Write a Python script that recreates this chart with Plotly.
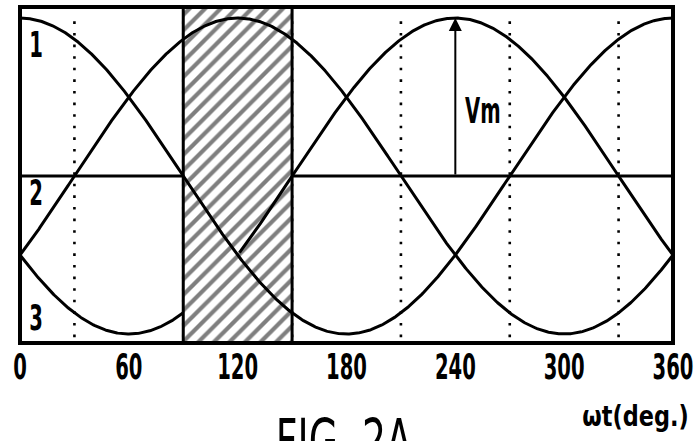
import numpy as np
import plotly.graph_objects as go

# Three-phase voltage waveforms, normalised to the peak value Vm
phase_labels = ["1", "2", "3"]
phase_shift_deg = [0, -120, 120]
phase_label_y = [0.83, -0.11, -0.90]
vm = 1.0

# Conduction interval shown hatched, and the 60-degree commutation marks
shade_start, shade_end = 90, 150
dotted_angles = [30, 90, 150, 210, 270, 330]
# stretch of phase 3 that is hidden inside the hatched band
hidden_phase3 = (90, 121)

x_ticks = [0, 60, 120, 180, 240, 300, 360]
vm_arrow_angle = 240

Y_MIN, Y_MAX = -1.057, 1.07
FONT = "DejaVu Sans, sans-serif"

theta = np.linspace(0, 360, 721)

fig = go.Figure()

# dotted marks
for a in dotted_angles:
    fig.add_trace(go.Scatter(
        x=[a, a], y=[-vm * 1.02, vm * 1.02], mode="lines",
        line=dict(color="black", width=2.6, dash="2.6px,9px"),
        hoverinfo="skip", showlegend=False))

# hatched interval
fig.add_trace(go.Scatter(
    x=[shade_start, shade_end, shade_end, shade_start, shade_start],
    y=[Y_MIN, Y_MIN, Y_MAX, Y_MAX, Y_MIN],
    mode="lines", fill="toself", fillcolor="white",
    fillpattern=dict(shape="/", size=11, solidity=0.38,
                     fgcolor="black", bgcolor="white"),
    line=dict(color="black", width=3),
    hoverinfo="skip", showlegend=False))

# zero reference line (interrupted by the hatched interval)
fig.add_trace(go.Scatter(
    x=[0, shade_start, None, shade_end, 360], y=[0, 0, None, 0, 0],
    mode="lines", line=dict(color="black", width=3),
    hoverinfo="skip", showlegend=False))

# phase voltages
for name, shift in zip(phase_labels, phase_shift_deg):
    v = vm * np.cos(np.radians(theta + shift))
    v = v.astype(object)
    if name == "3":
        mask = (theta > hidden_phase3[0]) & (theta < hidden_phase3[1])
        v[mask] = None
    fig.add_trace(go.Scatter(
        x=theta, y=v, mode="lines", name=name,
        line=dict(color="black", width=3),
        hoverinfo="skip", showlegend=False))

# Vm arrow from zero line to the peak of phase 3
fig.add_annotation(
    x=vm_arrow_angle, y=vm, ax=vm_arrow_angle, ay=0,
    xref="x", yref="y", axref="x", ayref="y",
    showarrow=True, arrowhead=2, arrowsize=1.3, arrowwidth=2,
    arrowcolor="black", text="")
fig.add_annotation(
    x=vm_arrow_angle + 15, y=0.41, xref="x", yref="y", text="Vm",
    showarrow=False,
    font=dict(family=FONT, size=35, color="black", weight="bold"))

# phase numbers at the left edge
for name, yv in zip(phase_labels, phase_label_y):
    fig.add_annotation(
        x=9, y=yv, xref="x", yref="y", text=name, showarrow=False,
        font=dict(family=FONT, size=35, color="black", weight="bold"))

# axis title and figure caption
fig.add_annotation(
    x=0.943, y=-0.165, xref="paper", yref="paper", xanchor="center",
    yanchor="top", text="ωt(deg.)", showarrow=False,
    font=dict(family=FONT, size=28, color="black", weight="bold"))
fig.add_annotation(
    x=0.496, y=-0.18, xref="paper", yref="paper", xanchor="center",
    yanchor="top", text="FIG. 2A", showarrow=False,
    font=dict(family=FONT, size=61, color="black"))

# frame
fig.add_shape(type="rect", xref="paper", yref="paper", x0=0, x1=1, y0=0, y1=1,
              line=dict(color="black", width=4), layer="above")

fig.update_xaxes(range=[0, 360], tickvals=x_ticks,
                 ticktext=[str(t) for t in x_ticks],
                 showgrid=False, zeroline=False, showline=False, ticks="",
                 ticklabeloverflow="allow", automargin=False,
                 tickfont=dict(family=FONT, size=35, color="black",
                               weight="bold"))
fig.update_yaxes(range=[Y_MIN, Y_MAX], showgrid=False, zeroline=False,
                 showline=False, showticklabels=False, ticks="",
                 automargin=False)

fig.update_layout(
    width=695, height=441,
    margin=dict(l=20, r=22, t=7, b=98, autoexpand=False),
    paper_bgcolor="white", plot_bgcolor="white",
    showlegend=False)

# Narrow drafting-style lettering: squeeze each label horizontally about its centre
squeeze_js = """
var gd = document.getElementById('{plot_id}');
gd.querySelectorAll('text').forEach(function (t) {
  if (!t.textContent) return;
  var txt = t.textContent;
  var s = 0.56;
  if (txt === '\u03c9t(deg.)') s = 0.8;
  else if (txt === 'FIG. 2A') s = 0.62;
  var b = t.getBBox();
  var cx = b.x + b.width / 2;
  var tr = t.getAttribute('transform') || '';
  t.setAttribute('transform', tr + ' translate(' + cx + ',0) scale(' + s + ',1) translate(' + (-cx) + ',0)');
});
"""

fig.write_html("out.html", post_script=squeeze_js)
